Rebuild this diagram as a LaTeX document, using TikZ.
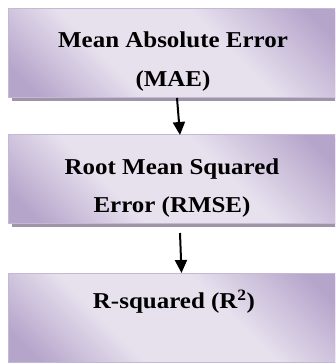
\documentclass[tikz,border=0pt]{standalone}
\usepackage{fontspec}
\setmainfont{Liberation Serif}[FakeStretch=1.1]
\usetikzlibrary{arrows.meta,shadows}
\definecolor{pdark}{RGB}{182,165,203}
\definecolor{plight}{RGB}{231,225,238}
\definecolor{pborder}{RGB}{196,184,212}
\definecolor{pshadow}{RGB}{158,150,168}
\pgfdeclareverticalshading{boxshade}{100bp}{color(0bp)=(pdark); color(20bp)=(pdark); color(38bp)=(plight); color(60bp)=(plight); color(80bp)=(pdark); color(100bp)=(pdark)}
\tikzset{
  metricbox/.style={rectangle, draw=pborder, line width=1pt, shading=boxshade, shading angle=-45,
    minimum width=330pt, inner sep=0pt, outer sep=0pt,
    general shadow={shadow xshift=4pt, shadow yshift=-3.5pt, fill=pshadow}},
  boxtext/.style={anchor=base, align=center, inner sep=0pt,
    font={\fontsize{22.7}{38.5}\selectfont\bfseries}},
  flowarrow/.style={draw=black, line width=2pt, -{Triangle[width=12pt,length=13pt]}}
}
\begin{document}
\begin{tikzpicture}[x=1pt,y=1pt]
\useasboundingbox (0,0) rectangle (335,-363);
\clip (0,0) rectangle (335,-363);
\node[metricbox, minimum height=89pt] (b1) at (173,-53.5) {};
\node[metricbox, minimum height=88pt] (b2) at (173,-179) {};
\node[metricbox, minimum height=89pt] (b3) at (173,-317.5) {};
\node[boxtext] (t1) at (173,-86.2) {Mean Absolute Error\\(MAE)};
\node[boxtext] (t2) at (172,-212.7) {Root Mean Squared\\Error (RMSE)};
\node[boxtext] (t3) at (174,-308.5) {R-squared (R\textsuperscript{2})};
\draw[flowarrow] ([xshift=4pt]b1.south) -- ([xshift=7pt]b2.north);
\draw[flowarrow] ([xshift=7pt,yshift=-10pt]b2.south) -- ([xshift=8.5pt]b3.north);
\end{tikzpicture}
\end{document}
